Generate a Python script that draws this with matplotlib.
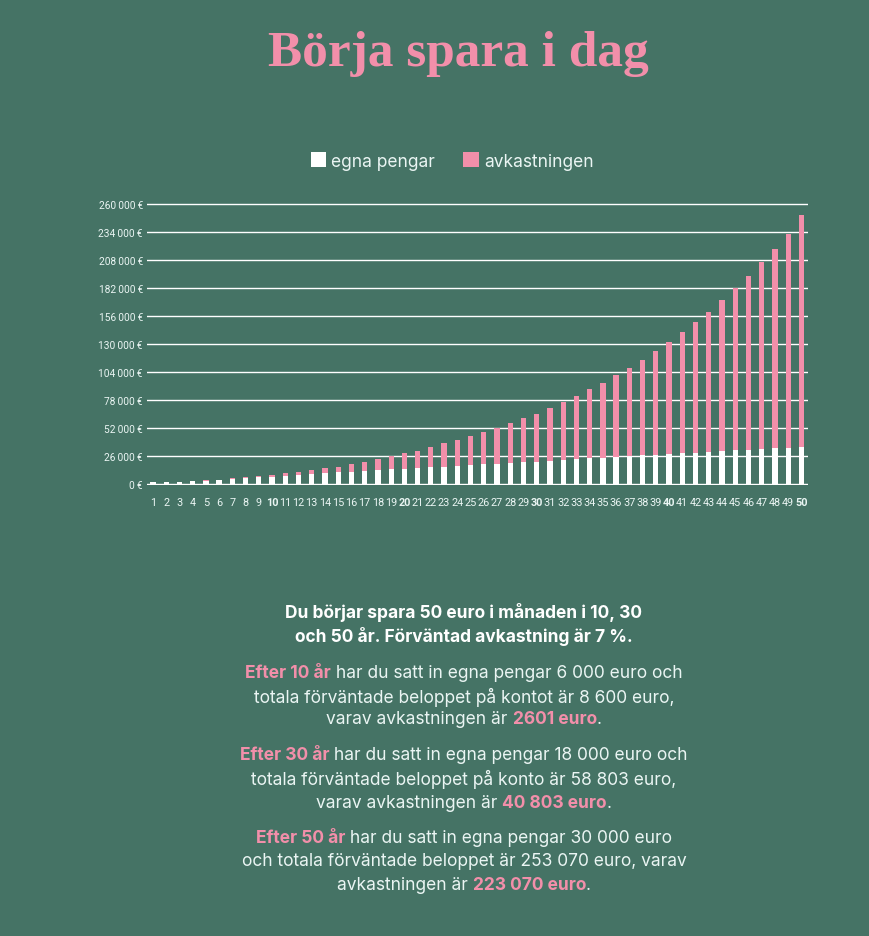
import numpy as np
import matplotlib.pyplot as plt
from matplotlib.patches import Patch

bg = '#457365'
pink = '#F28FAA'
light = '#EAF5F3'

years = list(range(1, 51))
egna_pengar = [2200, 2200, 2200, 3100, 3100, 4000, 5000, 5900, 6800, 6800,
               7700, 8700, 9600, 10500, 11500, 11500, 12400, 13300, 14200, 14200,
               15200, 16100, 16100, 17000, 18000, 18900, 18900, 19800, 20700, 20700,
               21400, 22300, 23200, 24100, 24100, 25100, 26000, 26900, 26900, 27900,
               28800, 28800, 29700, 30600, 31600, 31600, 32500, 33400, 33400, 34400]
avkastningen = [50, 50, 80, 100, 900, 300, 900, 900, 900, 1900,
                2800, 2800, 3700, 4700, 4600, 7400, 8300, 10200, 12100, 14900,
                15800, 18600, 22300, 24200, 26900, 29700, 33400, 37200, 40900, 44600,
                49200, 53800, 58500, 64100, 69700, 76100, 81700, 88200, 96600, 104000,
                112300, 121600, 130000, 140200, 150400, 161500, 173600, 184800, 198700, 215100]
yticks = [0, 26000, 52000, 78000, 104000, 130000, 156000, 182000, 208000, 234000, 260000]
ytick_labels = ['0\u2009€', '26\u2009000\u2009€', '52\u2009000\u2009€', '78\u2009000\u2009€',
                '104\u2009000\u2009€', '130\u2009000\u2009€', '156\u2009000\u2009€',
                '182\u2009000\u2009€', '208\u2009000\u2009€', '234\u2009000\u2009€',
                '260\u2009000\u2009€']

title = 'Börja spara i dag'
legend_labels = ['egna pengar', 'avkastningen']

# text below the chart: (segment, highlighted)
header = ['Du börjar spara 50 euro i månaden i 10, 30',
          'och 50 år. Förväntad avkastning är 7 %.']
paragraphs = [
    [[('Efter 10 år', True), (' har du satt in egna pengar 6 000 euro och', False)],
     [('totala förväntade beloppet på kontot är 8 600 euro,', False)],
     [('varav avkastningen är ', False), ('2601 euro', True), ('.', False)]],
    [[('Efter 30 år', True), (' har du satt in egna pengar 18 000 euro och', False)],
     [('totala förväntade beloppet på konto är 58 803 euro,', False)],
     [('varav avkastningen är ', False), ('40 803 euro', True), ('.', False)]],
    [[('Efter 50 år', True), (' har du satt in egna pengar 30 000 euro', False)],
     [('och totala förväntade beloppet är 253 070 euro, varav', False)],
     [('avkastningen är ', False), ('223 070 euro', True), ('.', False)]],
]

W, H = 869, 937
fig = plt.figure(figsize=(W / 100, H / 100), dpi=100, facecolor=bg)

tick_font = ['Roboto', 'DejaVu Sans']
body_font = ['Inter', 'DejaVu Sans']

ax = fig.add_axes([147 / W, 1 - 486 / H, (808 - 147) / W, (486 - 203) / H])
ax.set_facecolor(bg)
ax.bar(years, egna_pengar, width=0.4, color='white', zorder=3)
ax.bar(years, avkastningen, bottom=egna_pengar, width=0.4, color=pink, zorder=3)
ax.set_xlim(0.55, 50.5)
ax.set_ylim(-700, 262000)
ax.set_yticks(yticks)
ax.set_yticklabels(ytick_labels, family=tick_font, fontsize=7.3, color=light)
ax.set_xticks(years)
ax.set_xticklabels([str(y) for y in years], family=tick_font, fontsize=7.8, color=light)
for lab, y in zip(ax.get_xticklabels(), years):
    if y % 10 == 0:
        lab.set_fontweight('bold')
ax.tick_params(axis='y', length=0, pad=3)
ax.tick_params(axis='x', length=0, pad=9)
ax.grid(axis='y', color='white', linewidth=1.0)
ax.set_axisbelow(True)
for s in ax.spines.values():
    s.set_visible(False)

fig.text(458 / W, 1 - 66 / H, title, fontsize=37, fontweight='bold', color=pink,
         family=['Liberation Serif', 'DejaVu Serif'], ha='center', va='baseline')

handles = [Patch(facecolor='white'), Patch(facecolor=pink)]
fig.legend(handles, legend_labels, loc='center', bbox_to_anchor=(452 / W, 1 - 162 / H),
           ncol=2, frameon=False, handlelength=0.9, handleheight=0.9, handletextpad=0.3,
           columnspacing=1.6, prop={'family': body_font, 'size': 12.5}, labelcolor=light)

renderer = fig.canvas.get_renderer()
cx = 464 / W
size = 12.5


def draw_line(y, segments):
    texts = []
    for s, hi in segments:
        t = fig.text(0, 1 - y / H, s, fontsize=size, family=body_font, va='center', ha='left',
                     color=pink if hi else light, fontweight='bold' if hi else 'normal')
        texts.append(t)
    widths = [t.get_window_extent(renderer).width for t in texts]
    x = cx * W - sum(widths) / 2
    for t, w in zip(texts, widths):
        t.set_x(x / W)
        x += w


for y, line in zip([612, 637], header):
    fig.text(cx, 1 - y / H, line, fontsize=size, family=body_font, fontweight='bold',
             color='white', ha='center', va='center')

line_y = [[674, 697, 720], [756, 779, 803], [839, 862, 886]]
for ys, para in zip(line_y, paragraphs):
    for y, segs in zip(ys, para):
        draw_line(y, segs)

fig.savefig('out.png', dpi=100, facecolor=bg)
